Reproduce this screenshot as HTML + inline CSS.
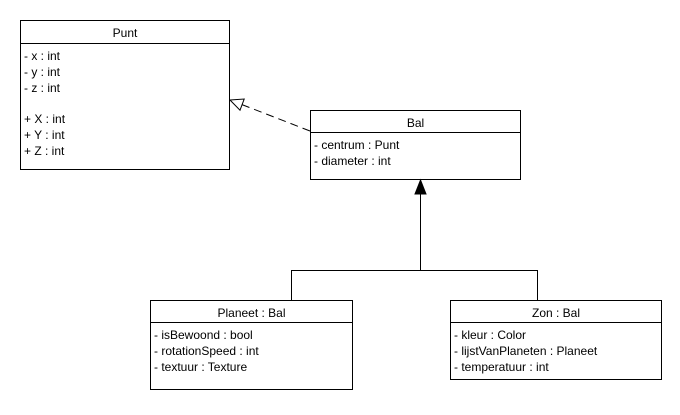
<!DOCTYPE html>
<html><head><meta charset="utf-8"><style>
body{margin:0;background:#fff;}
svg text{font-family:"Liberation Sans",Arial,sans-serif;font-size:12px;fill:#000;}
</style></head><body>
<svg width="680" height="410" xmlns="http://www.w3.org/2000/svg">
<g fill="#fff" stroke="#000" stroke-width="1">
<rect x="20.5" y="20.5" width="209" height="149"/>
<line x1="20" y1="43.5" x2="230" y2="43.5"/>
<rect x="310.5" y="110.5" width="210" height="69"/>
<line x1="310" y1="132.5" x2="521" y2="132.5"/>
<rect x="150.5" y="300.5" width="202" height="89"/>
<line x1="150" y1="322.5" x2="353" y2="322.5"/>
<rect x="450.5" y="300.5" width="211" height="79"/>
<line x1="450" y1="322.5" x2="662" y2="322.5"/>
</g>
<g stroke="#000" stroke-width="1" fill="none">
<line x1="310" y1="131" x2="242" y2="104.6" stroke-dasharray="8,5"/>
<polygon points="230,100 244.2,99 240,110.2" fill="#fff"/>
<polyline points="420.5,193 420.5,270.5"/>
<polyline points="291.5,300 291.5,270.5 537.5,270.5 537.5,300"/>
<polygon points="420.5,180 415,194 426,194" fill="#000"/>
</g>
<text x="125" y="37" text-anchor="middle">Punt</text>
<text x="24" y="60">- x : int</text>
<text x="24" y="76">- y : int</text>
<text x="24" y="92">- z : int</text>
<text x="24" y="123">+ X : int</text>
<text x="24" y="139">+ Y : int</text>
<text x="24" y="155">+ Z : int</text>
<text x="415.5" y="127" text-anchor="middle">Bal</text>
<text x="314" y="149">- centrum : Punt</text>
<text x="314" y="165">- diameter : int</text>
<text x="251.5" y="317" text-anchor="middle">Planeet : Bal</text>
<text x="154" y="339">- isBewoond : bool</text>
<text x="154" y="355">- rotationSpeed : int</text>
<text x="154" y="371">- textuur : Texture</text>
<text x="556" y="317" text-anchor="middle">Zon : Bal</text>
<text x="454" y="339">- kleur : Color</text>
<text x="454" y="355">- lijstVanPlaneten : Planeet</text>
<text x="454" y="371">- temperatuur : int</text>
</svg>
</body></html>
